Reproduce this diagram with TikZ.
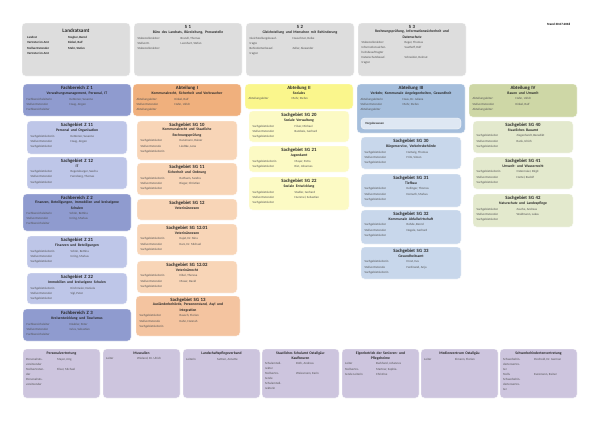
\documentclass[tikz,border=0pt]{standalone}
\usepackage{fontspec}
\setmainfont{Carlito}
\usepackage{array}
\usetikzlibrary{calc,backgrounds}
\definecolor{topgray}{RGB}{221,221,221}
\definecolor{zdark}{RGB}{143,155,207}
\definecolor{zlight}{RGB}{190,198,232}
\definecolor{odark}{RGB}{240,176,125}
\definecolor{olight}{RGB}{248,213,183}
\definecolor{omid}{RGB}{244,196,160}
\definecolor{ydark}{RGB}{250,246,140}
\definecolor{ylight}{RGB}{252,250,196}
\definecolor{bdark}{RGB}{165,190,220}
\definecolor{blight}{RGB}{200,215,235}
\definecolor{bpale}{RGB}{222,231,243}
\definecolor{gdark}{RGB}{206,215,166}
\definecolor{glight}{RGB}{227,233,205}
\definecolor{lilac}{RGB}{205,197,222}
\definecolor{linegray}{RGB}{185,185,185}
\definecolor{txtgray}{RGB}{80,80,80}
\newcolumntype{L}[1]{>{\raggedright\arraybackslash}p{#1}}
\newcommand\tb[3]{\renewcommand\arraystretch{1.05}\begin{tabular}{@{}L{#1pt}@{}L{#2pt}@{}}#3\end{tabular}}
\newcommand\subf{\fontsize{3.7}{4.5}\selectfont}
\newcommand\obox[9]{%
 \node[box,#6,anchor=north west,minimum width=#4pt,minimum height=#5pt] (#1) at (#2,#3) {};
 \node[ttl,anchor=north,text width=#4pt-6pt] (#1t) at ($(#1.north)+(0,2)$) {#7\\[-0.3pt]{\subf #8}};
 \node[body,anchor=north west] (#1r) at ($(#1.west |- #1t.south)+(3.5,0.8)$) {#9};
}
\newcommand\bbox[4]{%
 \node[box,fill=lilac,anchor=north west,minimum width=77pt,minimum height=49pt] (#1) at (#2,349) {};
 \node[ttl,anchor=north,text width=71pt,font=\bfseries\subf] (#1t) at ($(#1.north)+(0,3)$) {#3};
 \node[body,anchor=north west] (#1r) at ($(#1.west |- #1t.south)+(3,0.8)$) {#4};
}
\begin{document}
\begin{tikzpicture}[x=1pt,y=-1pt,
 box/.style={rounded corners=3.5pt,inner sep=0,outer sep=0,draw=white,line width=0.3pt},
 ttl/.style={font=\bfseries\fontsize{4.8}{5.6}\selectfont,align=center,inner sep=0,text=black!85},
 body/.style={font=\fontsize{3.1}{5.0}\selectfont,text=txtgray,inner sep=0},
 conn/.style={draw=linegray,line width=0.5pt}]
\useasboundingbox (0,0) rectangle (600,424);
\fill[white] (0,0) rectangle (600,424);

% ---------- top row ----------
\node[box,fill=topgray,anchor=north west,minimum width=108pt,minimum height=53pt] (lra) at (22,23) {};
\node[ttl,anchor=north,font=\bfseries\fontsize{5.2}{6}\selectfont] (lrat) at ($(lra.north)+(0,6)$) {Landratsamt};
\node[body,anchor=north west,font=\bfseries\fontsize{3.1}{5.2}\selectfont,text=black!85] (lrar) at ($(lra.west |- lrat.south)+(5,1)$)
 {\tb{41}{58}{Landrat & Stegher, Bernd\\ Vertreter im Amt & Kinkel, Ralf\\ Stellvertretender & Mehr, Stefan\\ Vertreter im Amt & }};

\obox{s1}{134}{23}{108}{53}{fill=topgray}{S 1}{Büro des Landrats, Büroleitung, Pressestelle}
 {\tb{43}{58}{Stabsstellenleiter: & Brandl, Thomas\\ Stellvertr. & Leonhart, Stefan\\ Stabsstellenleiter: & }}
\obox{s2}{246}{23}{108}{53}{fill=topgray}{S 2}{Gleichstellung und Menschen mit Behinderung}
 {\tb{43}{58}{Gleichstellungsbeauf-\newline tragte & Hauschner, Heike\\ Behindertenbeauf-\newline tragter & Zeller, Alexander}}
\obox{s3}{358}{23}{108}{53}{fill=topgray}{S 3}{Rechnungsprüfung, Informationssicherheit und\\ Datenschutz}
 {\tb{43}{58}{Stabsstellenleiter: & Reger, Thomas\\ Informationssicher-\newline heitsbeauftragter & Saathoff, Rolf\\ Datenschutzbeauf-\newline tragter & Schneider, Helmut}}

\node[font=\bfseries\fontsize{3.2}{4}\selectfont,anchor=west,inner sep=0] (stand) at (547,24) {Stand 30.07.2018};

% ---------- column Z ----------
\obox{z1}{23}{84}{108}{32}{fill=zdark}{Fachbereich Z 1}{Verwaltungsmanagement, Personal, IT}
 {\tb{43}{60}{Fachbereichsleiterin & Kettemer, Susanne\\ Stellvertretender & Haug, Jürgen\\ Fachbereichsleiter & }}
\obox{z11}{27}{121}{100}{33}{fill=zlight}{Sachgebiet Z 11}{Personal und Organisation}
 {\tb{40}{56}{Sachgebietsleiterin & Kettemer, Susanne\\ Stellvertretender & Haug, Jürgen\\ Sachgebietsleiter & }}
\obox{z12}{27}{157}{100}{32}{fill=zlight}{Sachgebiet Z 12}{IT}
 {\tb{40}{56}{Sachgebietsleiter & Regensburger, Sascha\\ Stellvertretender & Ferreberg, Thomas\\ Sachgebietsleiter & }}
\obox{z2}{23}{194}{108}{37}{fill=zdark}{Fachbereich Z 2}{Finanzen, Beteiligungen, Immobilien und kreiseigene\\ Schulen}
 {\tb{43}{60}{Fachbereichsleiterin & Schön, Bettina\\ Stellvertretender & Irning, Markus\\ Fachbereichsleiter & }}
\obox{z21}{27}{236}{100}{32}{fill=zlight}{Sachgebiet Z 21}{Finanzen und Beteiligungen}
 {\tb{40}{56}{Sachgebietsleiterin & Schön, Bettina\\ Stellvertretender & Irning, Markus\\ Sachgebietsleiter & }}
\obox{z22}{27}{273}{100}{31}{fill=zlight}{Sachgebiet Z 22}{Immobilien und kreiseigene Schulen}
 {\tb{40}{56}{Sachgebietsleiterin & Kirchmeier, Daniela\\ Stellvertretender & Sigl, Peter\\ Sachgebietsleiter & }}
\obox{z3}{23}{309}{108}{32}{fill=zdark}{Fachbereich Z 3}{Kreisentwicklung und Tourismus}
 {\tb{43}{60}{Fachbereichsleiter & Däubler, Peter\\ Stellvertretender & Gries, Sebastian\\ Fachbereichsleiter & }}

% ---------- Abteilung I ----------
\obox{a1}{133}{84}{108}{32}{fill=odark}{Abteilung I}{Kommunalrecht, Sicherheit und Verbraucher}
 {\tb{38}{64}{Abteilungsleiter: & Kinkel, Ralf\\ Stellvertretender & Hahn, Ulrich\\ Abteilungsleiter & }}
\obox{sg10}{137}{121}{100}{39}{fill=olight}{Sachgebiet SG 10}{Kommunalrecht und Staatliche\\ Rechnungsprüfung}
 {\tb{39}{58}{Sachgebietsleiter & Kunzmann, Rainer\\ Stellvertretende & Liedtke, Lena\\ Sachgebietsleiterin & }}
\obox{sg11}{137}{163}{100}{32}{fill=olight}{Sachgebiet SG 11}{Sicherheit und Ordnung}
 {\tb{39}{58}{Sachgebietsleiterin & Rathsam, Sandra\\ Stellvertretender & Rieger, Christian\\ Sachgebietsleiter & }}
\obox{sg12}{137}{199}{100}{21}{fill=olight}{Sachgebiet SG 12}{Veterinärwesen}{}
\obox{sg1201}{137}{224}{100}{31}{fill=olight}{Sachgebiet SG 12.01}{Veterinärwesen}
 {\tb{39}{58}{Sachgebietsleiterin & Kujat, Dr. Nina\\ Stellvertretender & Kurz, Dr. Michael\\ Sachgebietsleiter & }}
\obox{sg1202}{137}{261}{100}{32}{fill=olight}{Sachgebiet SG 12.02}{Veterinärrecht}
 {\tb{39}{58}{Sachgebietsleiterin & Eibel, Theresa\\ Stellvertretender & Moser, David\\ Sachgebietsleiter & }}
\obox{sg13}{136}{296}{104}{40}{fill=omid}{Sachgebiet SG 13}{Ausländerbehörde, Personenstand, Asyl und\\ Integration}
 {\tb{40}{60}{Sachgebietsleiter & Rausch, Florian\\ Stellvertretende & Kuhn, Hannah\\ Sachgebietsleiterin & }}

% ---------- Abteilung II ----------
\obox{a2}{245}{84}{108}{25}{fill=ydark}{Abteilung II}{Soziales}
 {\tb{43}{60}{Abteilungsleiter & Mehr, Stefan}}
\obox{sg20}{249}{111}{100}{31}{fill=ylight}{Sachgebiet SG 20}{Soziale Verwaltung}
 {\tb{42}{54}{Sachgebietsleiter & Filser, Michael\\ Stellvertretender & Bambeis, Gerhard\\ Sachgebietsleiter & }}
\obox{sg21}{249}{146}{100}{26}{fill=ylight}{Sachgebiet SG 21}{Jugendamt}
 {\tb{42}{54}{Sachgebietsleiterin & Mayer, Petra\\ Sachgebietsleiter & Rist, Johannes}}
\obox{sg22}{249}{177}{100}{33}{fill=ylight}{Sachgebiet SG 22}{Soziale Entwicklung}
 {\tb{42}{54}{Sachgebietsleiter & Stadler, Gerhard\\ Stellvertretender & Hummel, Sebastian\\ Sachgebietsleiter & }}

% ---------- Abteilung III ----------
\obox{a3}{357}{84}{108}{49}{fill=bdark}{Abteilung III}{Verkehr, Kommunale Angelegenheiten, Gesundheit}
 {\tb{42}{60}{Abteilungsleiterin & Haus, Dr. Juliana\\ Stellvertretender & Mehr, Stefan\\ Abteilungsleiter & }}
\node[box,fill=bpale,anchor=north west,minimum width=100pt,minimum height=11pt] (vorg) at (361,118) {};
\node[anchor=west,inner sep=0,font=\bfseries\fontsize{3.1}{3.7}\selectfont,text=black!80] (vorgt) at ($(vorg.west)+(4,0)$) {Vorgabewesen};
\obox{sg30}{361}{137}{100}{32}{fill=blight}{Sachgebiet SG 30}{Bürgerservice, Verkehrsbehörde}
 {\tb{42}{54}{Sachgebietsleiter & Hartwig, Thomas\\ Stellvertretender & Fritz, Simon\\ Sachgebietsleiter & }}
\obox{sg31}{361}{174}{100}{33}{fill=blight}{Sachgebiet SG 31}{Tiefbau}
 {\tb{42}{54}{Sachgebietsleiter & Kellinger, Thomas\\ Stellvertretender & Demuth, Markus\\ Sachgebietsleiter & }}
\obox{sg32}{361}{210}{100}{34}{fill=blight}{Sachgebiet SG 32}{Kommunale Abfallwirtschaft}
 {\tb{42}{54}{Sachgebietsleiter & Rohde, Bernd\\ Stellvertretender & Negele, Gerhard\\ Sachgebietsleiter & }}
\obox{sg33}{361}{247}{100}{32}{fill=blight}{Sachgebiet SG 33}{Gesundheitsamt}
 {\tb{42}{54}{Sachgebietsleiterin & Ernst, Eva\\ Stellvertretende & Ferdinand, Anja\\ Sachgebietsleiterin & }}

% ---------- Abteilung IV ----------
\obox{a4}{469}{84}{108}{33}{fill=gdark}{Abteilung IV}{Bauen und Umwelt}
 {\tb{43}{60}{Abteilungsleiter: & Hahn, Ulrich\\ Stellvertretender & Kinkel, Ralf\\ Abteilungsleiter: & }}
\obox{sg40}{473}{121}{100}{32}{fill=glight}{Sachgebiet SG 40}{Staatliches Bauamt}
 {\tb{40}{56}{Sachgebietsleiter & Ziegenhardt, Benedikt\\ Stellvertretender & Rank, Ulrich\\ Sachgebietsleiter & }}
\obox{sg41}{473}{157}{100}{32}{fill=glight}{Sachgebiet SG 41}{Umwelt- und Wasserrecht}
 {\tb{40}{56}{Sachgebietsleiterin & Ostermaier, Birgit\\ Stellvertretender & Hartel, Rudolf\\ Sachgebietsleiter & }}
\obox{sg42}{473}{194}{100}{33}{fill=glight}{Sachgebiet SG 42}{Naturschutz und Landespflege}
 {\tb{40}{56}{Sachgebietsleiter & Zasche, Andreas\\ Stellvertretender & Waldmann, Lukas\\ Sachgebietsleiter & }}

% ---------- bottom row ----------
\bbox{pv}{23}{Personalvertretung}
 {\tb{31}{40}{Personalrats-\newline vorsitzender & Mayer, Jörg\\ Stellvertreten-\newline der\newline Personalrats-\newline vorsitzender & Filser, Michael}}
\bbox{mu}{103}{Musealien}
 {\tb{31}{40}{Leiter & Wieland, Dr. Ulrich}}
\bbox{lpv}{183}{Landschaftspflegeverband}
 {\tb{31}{40}{Leiterin & Sattner, Annette}}
\bbox{ssa}{262}{Staatliches Schulamt Ostallgäu-\\ Kaufbeuren}
 {\tb{31}{40}{Schulamtsdi-\newline rektor & Roth, Andreas\\ Stellvertre-\newline tende\newline Schulamtsdi-\newline rektorin & Weissmann, Karin}}
\bbox{eb}{342}{Eigenbetrieb der Senioren- und\\ Pflegeheime}
 {\tb{31}{40}{Leiter & Burkhard, Johannes\\ Stellvertre-\newline tende Leiterin & Martner, Sophie-\newline Christine}}
\bbox{mz}{421}{Medienzentrum Ostallgäu}
 {\tb{31}{40}{Leiter & Eimann, Florian}}
\bbox{sbv}{500}{Schwerbehindertenvertretung}
 {\tb{31}{40}{Schwerbehin-\newline dertenvertre-\newline ter & Perzhold, Dr. German\\ Stellv.\newline Schwerbehin-\newline dertenvertre-\newline ter & Kunzmann, Rainer}}

% ---------- connectors ----------
\begin{pgfonlayer}{background}
\coordinate (tl) at (76,20);
\coordinate (hl) at (22,80);
\coordinate (hr) at (577,80);
\coordinate (vb) at (22,344);
\draw[conn] (lra.north) -- (lra.north |- tl) -- (s3.north |- tl) -- (s3.north);
\draw[conn] (s1.north) -- (s1.north |- tl);
\draw[conn] (s2.north) -- (s2.north |- tl);
\draw[conn] (lra.south) -- (lra.south |- hl);
\draw[conn,draw=linegray!60] (hl) -- (hr);
\draw[conn] (hl) -- (vb);
\draw[conn] (z1.west -| hl) -- (z1.west);
\draw[conn] (z2.west -| hl) -- (z2.west);
\draw[conn] (z3.west -| hl) -- (z3.west);
\draw[conn] (a1.north |- hl) -- (a1.north);
\draw[conn] (a2.north |- hl) -- (a2.north);
\draw[conn] (a3.north |- hl) -- (a3.north);
\draw[conn] (a4.north |- hl) -- (a4.north);
\draw[conn] (z1) -- (z12);
\draw[conn] (z2) -- (z22);
\draw[conn] (a1) -- (sg13);
\draw[conn] (a2) -- (sg22);
\draw[conn] (a3) -- (sg33);
\draw[conn] (a4) -- (sg42);
\end{pgfonlayer}
\end{tikzpicture}
\end{document}
